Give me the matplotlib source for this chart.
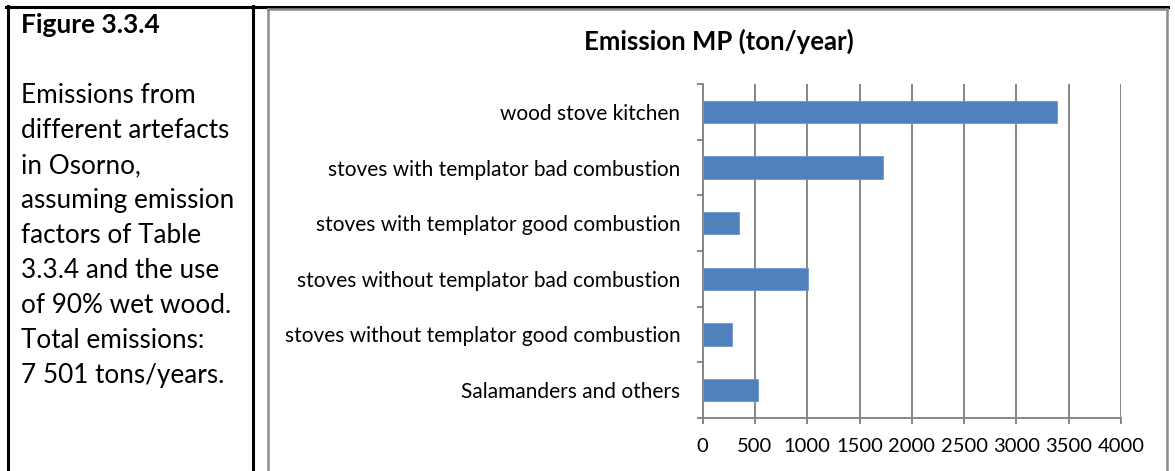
import matplotlib.pyplot as plt
from matplotlib.lines import Line2D

# data
categories = [
    "wood stove kitchen",
    "stoves with templator bad combustion",
    "stoves with templator good combustion",
    "stoves without templator bad combustion",
    "stoves without templator good combustion",
    "Salamanders and others",
]
emissions = [3390, 1720, 345, 1010, 278, 530]
xticks = [0, 500, 1000, 1500, 2000, 2500, 3000, 3500, 4000]

caption_title = "Figure 3.3.4"
caption_lines = [
    "Emissions from",
    "different artefacts",
    "in Osorno,",
    "assuming emission",
    "factors of Table",
    "3.3.4 and the use",
    "of 90% wet wood.",
    "Total emissions:",
    "7 501 tons/years.",
]
chart_title = "Emission MP (ton/year)"

W, H = 1175, 471
plt.rcParams["font.family"] = ["Lato", "DejaVu Sans"]

fig = plt.figure(figsize=(W / 100, H / 100), dpi=100)


def fx(px):
    return px / W


def fy(py):
    return 1 - py / H


# =========================================================
# table borders
# =========================================================

black = dict(color="black", linewidth=2.2, transform=fig.transFigure)
fig.lines.append(Line2D([fx(6), fx(1168)], [fy(7), fy(7)], **black))
fig.lines.append(Line2D([fx(7.5), fx(7.5)], [fy(6), fy(471)], **black))
fig.lines.append(Line2D([fx(253), fx(253)], [fy(6), fy(471)], **black))

gray = dict(color="#8c8c8c", linewidth=1.8, transform=fig.transFigure)
fig.lines.append(Line2D([fx(268), fx(268)], [fy(9), fy(471)], **gray))
fig.lines.append(Line2D([fx(268), fx(1167)], [fy(9), fy(9)], **gray))
fig.lines.append(Line2D([fx(1167), fx(1167)], [fy(9), fy(471)], **gray))

# =========================================================
# caption column
# =========================================================

fig.text(fx(21), fy(33), caption_title, fontsize=19, fontweight="bold",
         va="baseline", ha="left")
for i, line in enumerate(caption_lines):
    fig.text(fx(21), fy(103 + 35 * i), line, fontsize=18.8,
             va="baseline", ha="left")

# =========================================================
# bar chart
# =========================================================

x0, x1 = 702.7, 1121
y0, y1 = 84, 418
ax = fig.add_axes([fx(x0), fy(y1), fx(x1 - x0), (y1 - y0) / H])

pos = list(range(len(categories)))
ax.barh(pos, emissions, height=0.4, color="#4f81bd",
        edgecolor="#7096c8", linewidth=0.6, zorder=3)

ax.set_xlim(0, 4000)
ax.set_ylim(len(categories) - 0.5, -0.5)
ax.set_xticks(xticks)
ax.set_xticklabels([str(v) for v in xticks])

# tick marks at the category boundaries, labels at the centres
ax.set_yticks([p - 0.5 for p in pos] + [len(categories) - 0.5])
ax.set_yticklabels([])
ax.set_yticks(pos, minor=True)
ax.set_yticklabels(categories, minor=True)

axis_gray = "#868686"
ax.tick_params(axis="y", which="major", length=4.5, width=1.4,
               color=axis_gray, direction="out")
ax.tick_params(axis="y", which="minor", length=0, pad=16, labelsize=15)
ax.tick_params(axis="x", length=4.5, width=1.4, color=axis_gray,
               direction="out", pad=10, labelsize=14.5)

ax.grid(True, axis="x", color=axis_gray, linewidth=1.4, zorder=0)
for side in ["top", "right"]:
    ax.spines[side].set_visible(False)
for side in ["left", "bottom"]:
    ax.spines[side].set_color(axis_gray)
    ax.spines[side].set_linewidth(1.4)

fig.text(fx(719), fy(50), chart_title, fontsize=18.5, fontweight="bold",
         ha="center", va="baseline")

fig.savefig("out.png", dpi=100)
